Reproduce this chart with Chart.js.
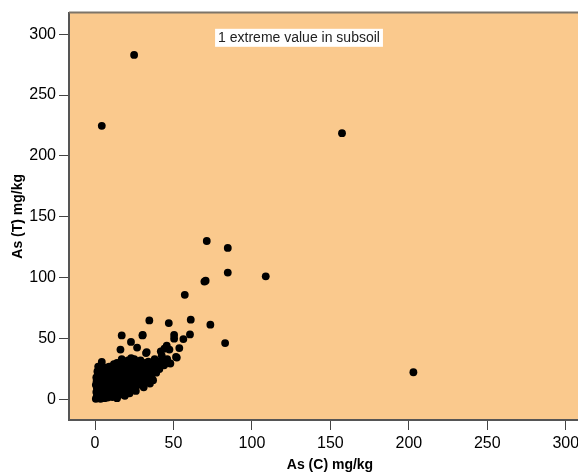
<!DOCTYPE html>
<html>
<head>
<meta charset="utf-8">
<script src="https://cdn.jsdelivr.net/npm/chart.js@4"></script>
<style>
  html, body { margin: 0; padding: 0; background: #fff; overflow: hidden; }
</style>
</head>
<body>
<canvas id="scatter" width="600" height="474"></canvas>
<script>
// As (C) values, x axis
const asC = [
    0.5, 1, 2, 1.5, 3, 0.8, 2.5, 4, 1.2, 3,
    0.5, 2, 4, 1, 3, 0.8, 2.5, 4.3, 1.5, 4.3,
    4.3, 3.5, 5, 5, 5, 5, 2,
    6, 7, 8, 6.5, 8, 9, 7, 9, 6, 8,
    10, 7, 9, 6, 8, 10, 7, 9, 10, 10,
    11, 12, 13, 11.5, 14, 12, 14, 11, 13, 15,
    12, 14, 11, 13, 15, 12, 14, 15, 15, 14,
    16, 17, 18, 16, 18, 20, 17, 19, 16, 18,
    20, 17, 19, 16, 18, 20, 17, 20, 16.2, 17,
    19,
    21, 22, 24, 21, 23, 25, 22, 24, 21, 23,
    25, 22, 24, 21, 23, 25, 22.9, 22,
    26, 27, 29, 26, 28, 30, 27, 29, 26, 28,
    30, 27, 29, 26.8, 30.2, 30, 26, 31,
    31, 33, 35, 32, 34, 36, 31, 33, 35, 37,
    32, 34, 36, 38, 39, 37, 40, 32.5, 32.9, 30.4,
    34.6, 38, 40,
    41, 42, 44, 43, 45.7, 41.9, 44.2, 47.4, 47, 48,
    50.4, 50.4, 51.6, 52.1, 53.7, 56.3, 60.5, 61, 46, 42.5,
    45.7,
    57.2, 69.7, 70.5, 71.2, 84.6, 84.6, 108.8, 73.5, 82.9, 157.4,
    202.9, 24.9, 4.3
];
// As (T) values, y axis
const asT = [
    0.5, 2, 1, 4, 3, 6, 7, 5, 9, 10,
    12, 13, 12, 15, 16, 18, 20, 22, 23, 26.7,
    30.8, 0.5, 2, 8, 15, 18, 27,
    1, 3, 1.5, 5, 6, 4, 9, 10, 12, 14,
    12, 17, 19, 21, 23, 22, 26, 27, 7, 3,
    2, 5, 3, 8, 7, 11, 13, 15, 17, 16,
    20, 22, 24, 27, 25, 29, 30, 10, 5, 1,
    4, 7, 5, 11, 12, 9, 15, 17, 19, 21,
    20, 25, 26, 28, 30, 31, 33, 14, 40.9, 52.6,
    3,
    7, 10, 9, 13, 15, 13, 18, 20, 22, 25,
    24, 28, 30, 32, 34, 33, 47.2, 5,
    11, 14, 12, 17, 19, 16, 22, 24, 26, 28,
    27, 31, 32, 42.6, 52.6, 20, 7, 10,
    14, 16, 13, 20, 22, 18, 25, 27, 26, 24,
    30, 31, 30, 28, 22, 15.8, 27, 38.1, 38.9, 52.9,
    64.9, 33, 31,
    25, 30, 28, 33, 30, 39.5, 41.7, 40.9, 62.7, 29.5,
    52.9, 49.9, 34.9, 34.4, 42.2, 49.6, 53.4, 65.5, 33, 36,
    44.2,
    85.9, 96.8, 97.5, 130.1, 124.4, 104.2, 101.1, 61.4, 46.3, 218.7,
    22.3, 282.9, 224.7
];
const tickValues = [0, 50, 100, 150, 200, 250, 300];
const note = '1 extreme value in subsoil';

const FONT = "'Liberation Sans', Arial, sans-serif";

const frame = {
    id: 'frame',
    beforeDraw(chart) {
        const a = chart.chartArea;
        const c = chart.ctx;
        c.save();
        c.fillStyle = '#FAC98D';
        c.fillRect(a.left, a.top, a.right - a.left, a.bottom - a.top);
        c.restore();
    },
    afterDatasetsDraw(chart) {
        const a = chart.chartArea;
        const c = chart.ctx;
        c.save();
        c.strokeStyle = '#7d7468';
        c.lineWidth = 2;
        c.beginPath();
        c.moveTo(a.left, a.top);
        c.lineTo(a.right, a.top);
        c.stroke();

        // annotation label
        const px = chart.scales.x.getPixelForValue(130);
        const py = chart.scales.y.getPixelForValue(297);
        c.font = '14px ' + FONT;
        const w = c.measureText(note).width;
        c.fillStyle = '#fff';
        c.fillRect(px - w / 2 - 3, py - 9, w + 6, 18);
        c.fillStyle = '#222';
        c.textAlign = 'center';
        c.textBaseline = 'middle';
        c.fillText(note, px, py);
        c.restore();
    }
};

const ctx = document.getElementById('scatter').getContext('2d');
new Chart(ctx, {
    type: 'scatter',
    data: {
        datasets: [{
            data: asC.map((v, i) => ({ x: v, y: asT[i] })),
            backgroundColor: '#000',
            borderWidth: 0,
            pointRadius: 3.9
        }]
    },
    options: {
        responsive: false,
        animation: false,
        layout: { padding: { top: 11, right: 9, left: 0, bottom: 0 } },
        plugins: {
            legend: { display: false },
            tooltip: { enabled: false }
        },
        scales: {
            x: {
                type: 'linear',
                min: -16.6,
                max: 316.1,
                afterBuildTicks: s => { s.ticks = tickValues.map(v => ({ value: v })); },
                afterFit: s => { s.height = 54; },
                grid: { drawOnChartArea: false, drawTicks: true, tickLength: 10, color: '#444', lineWidth: 1 },
                border: { display: true, color: '#555', width: 2 },
                ticks: { color: '#000', padding: 4, maxRotation: 0, font: { family: FONT, size: 16 } },
                title: {
                    display: true, text: 'As (C) mg/kg', color: '#000',
                    padding: { top: 0, bottom: 0 },
                    font: { family: FONT, size: 14, weight: 'bold' }
                }
            },
            y: {
                type: 'linear',
                min: -16.9,
                max: 317.7,
                afterBuildTicks: s => { s.ticks = tickValues.map(v => ({ value: v })); },
                afterFit: s => { s.width = 69; },
                grid: { drawOnChartArea: false, drawTicks: true, tickLength: 10, color: '#444', lineWidth: 1 },
                border: { display: true, color: '#555', width: 2 },
                ticks: { color: '#000', padding: 3, font: { family: FONT, size: 16 } },
                title: {
                    display: true, text: 'As (T) mg/kg', color: '#000',
                    padding: { top: 10, bottom: 0 },
                    font: { family: FONT, size: 14, weight: 'bold' }
                }
            }
        }
    },
    plugins: [frame]
});
</script>
</body>
</html>
